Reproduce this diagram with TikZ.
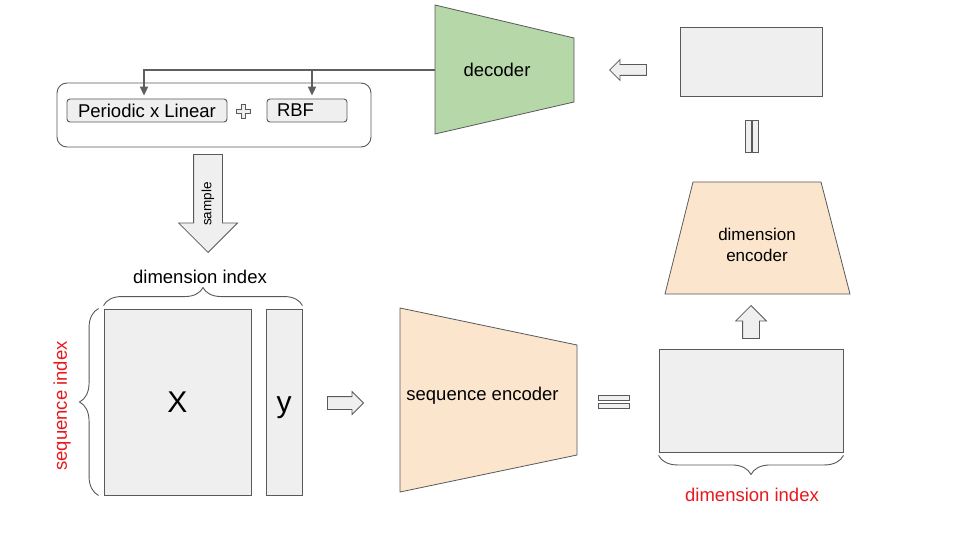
\documentclass[tikz,border=0pt]{standalone}
\usepackage{fontspec}
\setmainfont{Liberation Sans}
\usetikzlibrary{shapes.arrows,arrows.meta,decorations.pathreplacing}
\definecolor{boxgray}{HTML}{EFEFEF}
\definecolor{linegray}{HTML}{595959}
\definecolor{feedgray}{HTML}{5F5F5F}
\definecolor{decgreen}{HTML}{B6D7A8}
\definecolor{encorange}{HTML}{FCE5CD}
\definecolor{idxred}{HTML}{E8191E}
\tikzset{
  box/.style={draw=linegray, fill=boxgray, line width=0.9pt, inner sep=0pt},
  lab/.style={font=\fontsize{18.5}{22}\selectfont},
  big/.style={font=\fontsize{30}{34}\selectfont, text height=21.5pt, text depth=0pt},
  blk/.style={single arrow, draw=linegray, fill=boxgray, line width=0.8pt, inner xsep=0pt, anchor=tip},
  brc/.style={decorate, decoration={brace, amplitude=#1}, draw=linegray, line width=0.9pt},
  feed/.style={draw=feedgray, line width=2pt, -{Triangle[width=8pt,length=9pt]}, shorten >=3pt},
  trap/.style={draw=linegray, line width=0.8pt}
}
\begin{document}
\begin{tikzpicture}[x=1pt,y=-1pt]
\useasboundingbox[fill=white] (0,0) rectangle (960,540);
% kernel
\node [draw=linegray, line width=0.9pt, rounded corners=10pt, minimum width=314pt, minimum height=64pt] (kernel) at (214,115) {};
\node [box, rounded corners=3pt, lab, minimum width=160pt, minimum height=23pt] (periodic) at (147,110.5) {Periodic x Linear};
\node [box, rounded corners=3pt, lab, text width=60pt, inner xsep=10pt, align=left, minimum height=23pt] (rbf) at (307,110.5) {RBF};
\draw [box, shift={(243,111)}] (-7,-2) -- (-2,-2) -- (-2,-7) -- (2,-7) -- (2,-2) -- (7,-2) -- (7,2) -- (2,2) -- (2,7) -- (-2,7) -- (-2,2) -- (-7,2) -- cycle;
% decoder
\draw [trap, fill=decgreen] (435,5) -- (574,38) -- (574,102) -- (435,134) -- cycle;
\node [lab] (decoder) at (497,70) {decoder};
\coordinate (decw) at (435,70.5);
\draw [feed] (decw) -| ([xshift=-3pt]periodic.north);
\draw [feed] ([xshift=5pt]rbf.north |- decw) -- ([xshift=5pt]rbf.north);
\node [box, minimum width=142pt, minimum height=69pt] (latent) at (751,61.5) {};
\node [blk, shape border rotate=180, inner ysep=5pt, single arrow head extend=5pt, minimum height=37pt] (back) at (609,70) {};
% sample
\node [blk, shape border rotate=270, inner xsep=14pt, inner ysep=0pt, single arrow head extend=15pt, minimum height=98pt] (samplearr) at (208,253) {};
\node [rotate=90, font=\fontsize{13.5}{16}\selectfont] (sampletxt) at (208,204) {sample};
% data
\node [box, big, minimum width=147pt, minimum height=186pt] (xbox) at (177.5,402) {X};
\node [box, big, minimum width=36pt, minimum height=186pt] (ybox) at (284,402) {y};
\draw [brc=18pt] ([yshift=3pt]xbox.north west) -- ([yshift=3pt]ybox.north east);
\node [lab] (dimtop) at (200,277) {dimension index};
\draw [brc=19pt] ([xshift=-5pt]xbox.south west) -- ([xshift=-5pt]xbox.north west);
\node [lab, rotate=90, text=idxred] (seqidx) at (62,406) {sequence index};
\node [blk, shape border rotate=0, inner ysep=6pt, single arrow head extend=5pt, minimum height=36pt] (fwd) at (364,403) {};
% sequence encoder
\draw [trap, fill=encorange] (400,308) -- (577,345) -- (577,455) -- (400,492) -- cycle;
\node [lab] (seqenc) at (482.5,396) {sequence encoder};
\node [box, minimum width=31pt, minimum height=5pt] (eqa) at (613.5,397.5) {};
\node [box, minimum width=31pt, minimum height=5pt] (eqb) at (613.5,405.5) {};
\node [box, minimum width=184pt, minimum height=103pt] (seqout) at (751,400.5) {};
\draw [brc=19pt] ([yshift=-3pt]seqout.south east) -- ([yshift=-3pt]seqout.south west);
\node [lab, text=idxred] (dimidx) at (752,495) {dimension index};
% dimension encoder
\node [blk, shape border rotate=90, inner xsep=8pt, inner ysep=0pt, single arrow head extend=7pt, minimum height=33pt] (upar) at (751,305) {};
\draw [trap, fill=encorange] (693,182) -- (821,182) -- (850,294) -- (665,294) -- cycle;
\node [lab, font=\fontsize{17}{21}\selectfont, align=center] (dimenc) at (757,245) {dimension\\encoder};
\node [box, minimum width=6pt, minimum height=32pt] (vqa) at (748,136) {};
\node [box, minimum width=6pt, minimum height=32pt] (vqb) at (755,136) {};
\end{tikzpicture}
\end{document}
